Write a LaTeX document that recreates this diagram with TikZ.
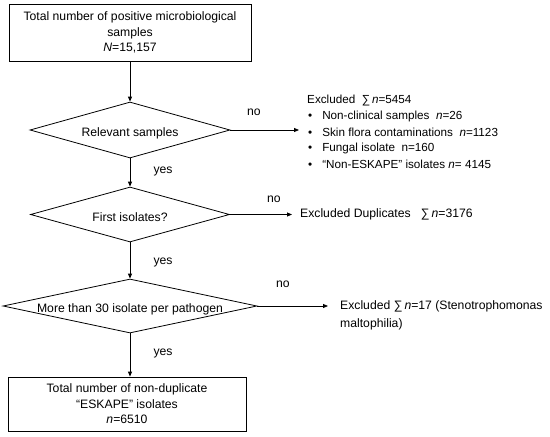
\documentclass[tikz,border=0pt]{standalone}
\usepackage{fontspec}
\setmainfont{Liberation Sans}
\usetikzlibrary{shapes.geometric,arrows.meta}
\begin{document}
\begin{tikzpicture}[x=1pt,y=-1pt,
  every node/.style={font=\fontsize{12.2}{15.5}\selectfont, inner sep=0pt},
  smallfont/.style={font=\fontsize{11.7}{14}\selectfont},
  boxnode/.style={draw, line width=0.8pt, rectangle, align=center},
  decision/.style={draw, line width=0.8pt, diamond},
  lbl/.style={anchor=center},
  txt/.style={anchor=west},
  arr/.style={line width=0.8pt, -{Triangle[length=5pt,width=4pt]}}]
\useasboundingbox (0,0) rectangle (550,437);
% boxes
\node[boxnode, minimum width=242pt, minimum height=57pt] (top) at (130,32.5) {Total number of positive microbiological\\samples\\\textit{N}=15,157};
\node[decision, minimum width=200pt, minimum height=56pt] (d1) at (130,130) {};
\node[lbl] (t1) at (130,133) {Relevant samples};
\node[decision, minimum width=199pt, minimum height=55pt] (d2) at (130,214.5) {};
\node[lbl] (t2) at (130,217) {First isolates?};
\node[decision, minimum width=254pt, minimum height=54pt] (d3) at (130,306) {};
\node[lbl] (t3) at (130,309) {More than 30 isolate per pathogen};
\node[boxnode, minimum width=238pt, minimum height=54pt] (bot) at (127,404) {Total number of non-duplicate\\“ESKAPE” isolates\\\textit{n}=6510};
% vertical arrows
\draw[arr] (top.south -| d1.north) -- (d1.north);
\draw[arr] (d1.south) -- (d2.north);
\draw[arr] (d2.south) -- (d3.north);
\draw[arr] (d3.south) -- (d3.south |- bot.north);
% yes labels
\node[lbl] (y1) at (163,171) {yes};
\node[lbl] (y2) at (163,262) {yes};
\node[lbl] (y3) at (163,353) {yes};
% no labels
\node[lbl] (n1) at (254,112) {no};
\node[lbl] (n2) at (274,199) {no};
\node[lbl] (n3) at (283,284) {no};
% excluded 1
\node[txt, smallfont] (e1) at (307,100) {Excluded\ \ ∑\,\textit{n}=5454};
\node[txt, smallfont] (b1) at (308,116.5) {•\hspace{10pt}Non-clinical samples\ \ \textit{n}=26};
\node[txt, smallfont] (b2) at (308,132.5) {•\hspace{10pt}Skin flora contaminations\ \ \textit{n}=1123};
\node[txt, smallfont] (b3) at (308,148.5) {•\hspace{10pt}Fungal isolate\ \ n=160};
\node[txt, smallfont] (b4) at (308,164.5) {•\hspace{10pt}“Non-ESKAPE” isolates \textit{n}= 4145};
\coordinate (a1) at (299,130);
\draw[arr] (d1.east) -- (a1);
% excluded 2
\node[txt] (e2) at (300,214.5) {Excluded Duplicates\ \ \ ∑\,\textit{n}=3176};
\draw[arr] (d2.east) -- (e2.west -| 292,0);
% excluded 3
\node[txt] (e3) at (340,306) {Excluded ∑\,\textit{n}=17 (Stenotrophomonas};
\node[txt] (e3b) at (340,324) {maltophilia)};
\coordinate (a3) at (328,306);
\draw[arr] (d3.east) -- (a3);
\end{tikzpicture}
\end{document}
